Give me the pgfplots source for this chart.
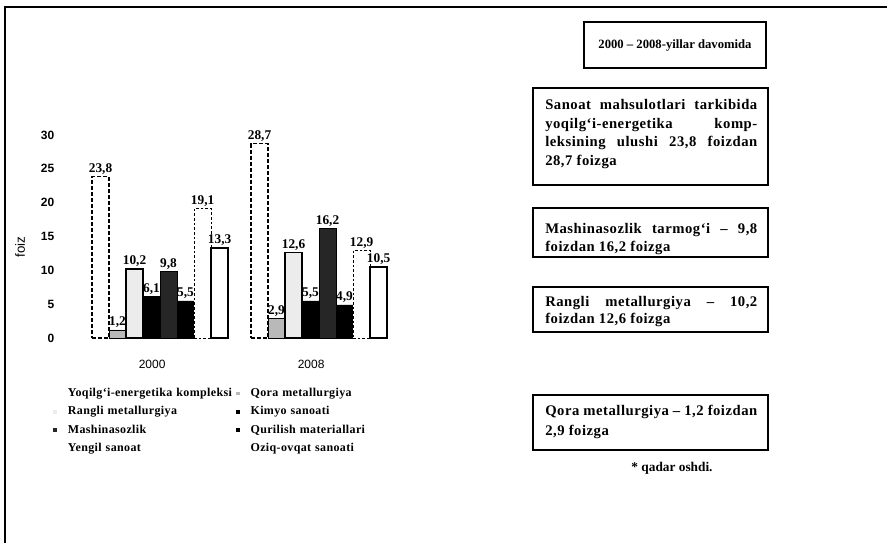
\documentclass[border=0pt]{standalone}
\usepackage{fontspec}
\setmainfont{Liberation Serif}
\newfontfamily\sansf{Liberation Sans}
\newfontfamily\lsf{Liberation Serif}[LetterSpace=3.5]
\newfontfamily\lgf{Liberation Serif}[LetterSpace=3]
\usepackage{pgfplots}
\pgfplotsset{compat=1.18}
\newcommand\boxfont{\lsf\bfseries\fontsize{11}{12}\selectfont}
\begin{document}
\begin{tikzpicture}
\useasboundingbox (0,0) rectangle (665.25pt,-406.5pt);
\begin{scope}[x=0.75pt,y=-0.75pt]
  % outer frame (left and top)
  \draw[line width=2pt] (5,545) -- (5,7) -- (890,7);
  % y label
  \node[rotate=90,font=\sansf\fontsize{10}{12}\selectfont] at (20,247) {foiz};
  % box 1
  \draw[line width=1.4pt] (584,22) rectangle (766,68);
  \node[font=\bfseries\fontsize{9.5}{11}\selectfont] at (675,45) {2000 – 2008-yillar davomida};
  % box 2
  \draw[line width=1.4pt] (533,88) rectangle (768,185);
  \node[anchor=west,font=\boxfont,inner sep=0pt] at (545,105) {\makebox[159pt][s]{Sanoat mahsulotlari tarkibida}};
  \node[anchor=west,font=\boxfont,inner sep=0pt] at (545,125) {\makebox[159pt][s]{yoqilg‘i-energetika komp-}};
  \node[anchor=west,font=\boxfont,inner sep=0pt] at (545,143) {\makebox[159pt][s]{leksining ulushi 23,8 foizdan}};
  \node[anchor=west,font=\boxfont,inner sep=0pt] at (545,162) {28,7 foizga};
  % box 3
  \draw[line width=1.4pt] (533,208) rectangle (768,257);
  \node[anchor=west,font=\boxfont,inner sep=0pt] at (545,230) {\makebox[159pt][s]{Mashinasozlik tarmog‘i – 9,8}};
  \node[anchor=west,font=\boxfont,inner sep=0pt] at (545,248) {foizdan 16,2 foizga};
  % box 4
  \draw[line width=1.4pt] (533,287) rectangle (768,332);
  \node[anchor=west,font=\boxfont,inner sep=0pt] at (545,303) {\makebox[159pt][s]{Rangli metallurgiya – 10,2}};
  \node[anchor=west,font=\boxfont,inner sep=0pt] at (545,320) {foizdan 12,6 foizga};
  % box 5
  \draw[line width=1.4pt] (533,395) rectangle (768,450);
  \node[anchor=west,font=\boxfont,inner sep=0pt] at (545,412) {\makebox[159pt][s]{Qora metallurgiya – 1,2 foizdan}};
  \node[anchor=west,font=\boxfont,inner sep=0pt] at (545,432) {2,9 foizga};
  % note
  \node[font=\bfseries\fontsize{10}{12}\selectfont] at (672,468) {* qadar oshdi.};
\end{scope}

\begin{axis}[
  at={(56.25pt,-253.5pt)}, anchor=south west, scale only axis,
  width=251.25pt, height=152.25pt,
  xmin=-0.535, xmax=1.572, ymin=0, ymax=30,
  ybar=0pt, bar width=0.107,
  axis line style={draw=none}, tick style={draw=none},
  ytick={0,5,...,30},
  xtick={-0.05,0.95}, xticklabels={2000,2008},
  /pgf/number format/assume math mode=true,
  yticklabel style={font=\sansf\bfseries\fontsize{9}{10}\selectfont, xshift=-12pt},
  xticklabel style={font=\sansf\fontsize{9}{10}\selectfont, yshift=-9pt},
  nodes near coords={\pgfmathprintnumber[fixed,fixed zerofill,precision=1,use comma]{\pgfplotspointmeta}},
  every node near coord/.append style={font=\bfseries\fontsize{10}{11}\selectfont, inner sep=1.2pt, black},
  legend columns=2,
  legend style={at={(-0.0657,-0.241)}, anchor=north west, draw=none, fill=none,
    inner sep=0pt, row sep=4.2pt,
    nodes={inner sep=0pt, text height=7pt, text depth=2.5pt, text width=126pt, align=left,
           font=\lgf\bfseries\fontsize{9}{11}\selectfont}},
  legend image code/.code={\fill[#1,draw=none] (0pt,-1.4pt) rectangle (2.8pt,1.4pt); \path[draw=none,fill=none] (0pt,0pt) -- (11pt,0pt);},
]
\addplot[fill=white, draw=black, line width=0.8pt, dash pattern=on 3pt off 1.5pt] coordinates {(0,23.8) (1,28.7)};
\addlegendentry{\mbox{Yoqilg‘i-energetika kompleksi}}
\addplot[fill=gray!55, draw=black, line width=0.5pt] coordinates {(0,1.2) (1,2.9)};
\addlegendentry{Qora metallurgiya}
\addplot[fill=gray!15, draw=black, line width=0.9pt] coordinates {(0,10.2) (1,12.6)};
\addlegendentry{Rangli metallurgiya}
\addplot[fill=black, draw=black] coordinates {(0,6.1) (1,5.5)};
\addlegendentry{Kimyo sanoati}
\addplot[fill=black!85, draw=black] coordinates {(0,9.8) (1,16.2)};
\addlegendentry{Mashinasozlik}
\addplot[fill=black, draw=black] coordinates {(0,5.5) (1,4.9)};
\addlegendentry{Qurilish materiallari}
\addplot[fill=white, draw=black, line width=0.6pt, dash pattern=on 2pt off 1.5pt] coordinates {(0,19.1) (1,12.9)};
\addlegendentry{Yengil sanoat}
\addplot[fill=white, draw=black, line width=1pt] coordinates {(0,13.3) (1,10.5)};
\addlegendentry{Oziq-ovqat sanoati}
\end{axis}
\end{tikzpicture}
\end{document}
